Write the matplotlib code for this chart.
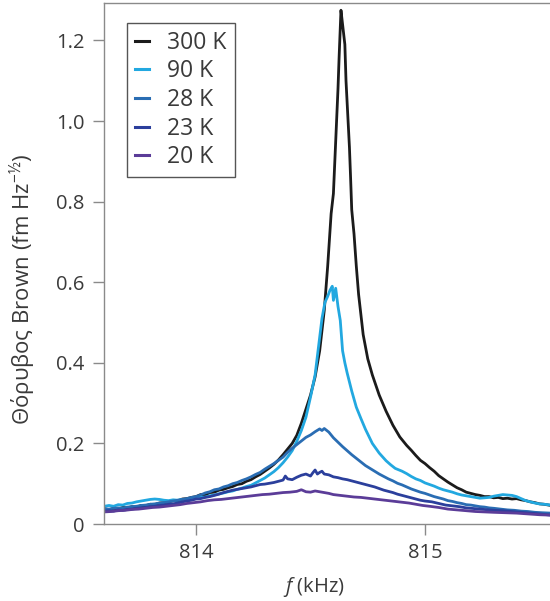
import matplotlib
matplotlib.use("Agg")
import matplotlib.pyplot as plt

# Brown noise spectra: (f in kHz, noise in fm Hz^-1/2)
trace_300K = [
    (813.60, 0.038), (813.62, 0.035), (813.64, 0.039), (813.66, 0.037), (813.68, 0.041),
    (813.70, 0.040), (813.72, 0.043), (813.74, 0.042), (813.76, 0.046), (813.78, 0.045),
    (813.80, 0.049), (813.82, 0.048), (813.84, 0.052), (813.86, 0.053), (813.88, 0.055),
    (813.90, 0.058), (813.92, 0.057), (813.94, 0.062), (813.96, 0.063), (813.98, 0.066),
    (814.00, 0.068), (814.02, 0.073), (814.04, 0.072), (814.06, 0.078), (814.08, 0.079),
    (814.10, 0.084), (814.12, 0.086), (814.14, 0.090), (814.16, 0.093), (814.18, 0.098),
    (814.20, 0.100), (814.22, 0.106), (814.24, 0.110), (814.26, 0.117), (814.28, 0.123),
    (814.30, 0.131), (814.32, 0.139), (814.34, 0.148), (814.36, 0.159), (814.38, 0.172),
    (814.40, 0.186), (814.42, 0.200), (814.44, 0.220), (814.46, 0.250), (814.48, 0.285),
    (814.50, 0.320), (814.52, 0.365), (814.54, 0.430), (814.56, 0.530), (814.575, 0.640),
    (814.59, 0.770), (814.60, 0.820), (814.61, 0.950), (814.62, 1.080), (814.625, 1.160),
    (814.633, 1.275), (814.64, 1.240), (814.65, 1.190), (814.655, 1.100), (814.665, 0.990),
    (814.67, 0.935), (814.675, 0.860), (814.68, 0.780), (814.69, 0.720), (814.70, 0.640),
    (814.71, 0.570), (814.72, 0.520), (814.73, 0.470), (814.75, 0.410), (814.77, 0.370),
    (814.80, 0.320), (814.83, 0.280), (814.86, 0.245), (814.89, 0.216), (814.92, 0.195),
    (814.94, 0.183), (814.96, 0.170), (814.98, 0.158), (815.00, 0.150), (815.02, 0.140),
    (815.04, 0.131), (815.06, 0.120), (815.08, 0.112), (815.10, 0.104), (815.12, 0.097),
    (815.14, 0.090), (815.16, 0.085), (815.18, 0.079), (815.20, 0.076), (815.22, 0.073),
    (815.24, 0.071), (815.26, 0.068), (815.28, 0.068), (815.30, 0.065), (815.32, 0.066),
    (815.34, 0.063), (815.36, 0.064), (815.38, 0.062), (815.40, 0.063), (815.42, 0.060),
    (815.44, 0.058), (815.46, 0.055), (815.48, 0.053), (815.50, 0.050), (815.52, 0.049),
    (815.55, 0.046),
]

trace_90K = [
    (813.60, 0.044), (813.62, 0.046), (813.64, 0.044), (813.66, 0.048), (813.68, 0.047),
    (813.70, 0.051), (813.72, 0.052), (813.74, 0.055), (813.76, 0.057), (813.78, 0.059),
    (813.80, 0.061), (813.82, 0.062), (813.84, 0.061), (813.86, 0.059), (813.88, 0.058),
    (813.90, 0.060), (813.92, 0.059), (813.94, 0.061), (813.96, 0.061), (813.98, 0.063),
    (814.00, 0.063), (814.02, 0.066), (814.04, 0.067), (814.06, 0.070), (814.08, 0.072),
    (814.10, 0.075), (814.12, 0.077), (814.14, 0.080), (814.16, 0.082), (814.18, 0.086),
    (814.20, 0.089), (814.22, 0.093), (814.24, 0.096), (814.26, 0.102), (814.28, 0.108),
    (814.30, 0.114), (814.32, 0.122), (814.34, 0.130), (814.36, 0.140), (814.38, 0.152),
    (814.40, 0.166), (814.42, 0.182), (814.44, 0.205), (814.46, 0.232), (814.48, 0.265),
    (814.50, 0.315), (814.52, 0.370), (814.535, 0.440), (814.55, 0.510), (814.563, 0.550),
    (814.575, 0.565), (814.585, 0.580), (814.595, 0.590), (814.60, 0.555), (814.61, 0.585),
    (814.62, 0.540), (814.63, 0.505), (814.64, 0.430), (814.65, 0.400), (814.66, 0.375),
    (814.68, 0.330), (814.70, 0.290), (814.72, 0.262), (814.74, 0.235), (814.77, 0.200),
    (814.80, 0.176), (814.83, 0.157), (814.85, 0.147), (814.87, 0.138), (814.90, 0.131),
    (814.92, 0.125), (814.94, 0.118), (814.96, 0.112), (814.98, 0.108), (815.00, 0.102),
    (815.02, 0.098), (815.04, 0.094), (815.06, 0.089), (815.08, 0.085), (815.10, 0.082),
    (815.12, 0.079), (815.14, 0.075), (815.16, 0.072), (815.18, 0.070), (815.20, 0.068),
    (815.22, 0.066), (815.24, 0.064), (815.26, 0.065), (815.28, 0.066), (815.30, 0.069),
    (815.32, 0.071), (815.34, 0.073), (815.36, 0.072), (815.38, 0.071), (815.40, 0.068),
    (815.42, 0.063), (815.44, 0.058), (815.46, 0.055), (815.48, 0.052), (815.50, 0.050),
    (815.52, 0.049), (815.55, 0.047),
]

trace_28K = [
    (813.60, 0.038), (813.62, 0.037), (813.64, 0.039), (813.66, 0.040), (813.68, 0.039),
    (813.70, 0.042), (813.72, 0.043), (813.74, 0.044), (813.76, 0.046), (813.78, 0.047),
    (813.80, 0.049), (813.82, 0.050), (813.84, 0.052), (813.86, 0.053), (813.88, 0.055),
    (813.90, 0.057), (813.92, 0.059), (813.94, 0.061), (813.96, 0.063), (813.98, 0.066),
    (814.00, 0.068), (814.02, 0.072), (814.04, 0.077), (814.06, 0.080), (814.08, 0.085),
    (814.10, 0.087), (814.12, 0.092), (814.14, 0.095), (814.16, 0.100), (814.18, 0.103),
    (814.20, 0.108), (814.22, 0.112), (814.24, 0.117), (814.26, 0.123), (814.28, 0.128),
    (814.30, 0.136), (814.32, 0.143), (814.34, 0.150), (814.36, 0.158), (814.38, 0.166),
    (814.40, 0.178), (814.42, 0.188), (814.44, 0.197), (814.46, 0.206), (814.48, 0.215),
    (814.50, 0.221), (814.52, 0.229), (814.54, 0.236), (814.55, 0.232), (814.56, 0.237),
    (814.58, 0.228), (814.60, 0.214), (814.62, 0.203), (814.64, 0.192), (814.66, 0.182),
    (814.68, 0.172), (814.70, 0.163), (814.72, 0.154), (814.74, 0.145), (814.76, 0.138),
    (814.78, 0.131), (814.80, 0.124), (814.82, 0.118), (814.84, 0.112), (814.86, 0.107),
    (814.88, 0.101), (814.90, 0.097), (814.92, 0.092), (814.94, 0.087), (814.96, 0.083),
    (814.98, 0.079), (815.00, 0.076), (815.02, 0.072), (815.04, 0.068), (815.06, 0.065),
    (815.08, 0.062), (815.10, 0.058), (815.12, 0.056), (815.14, 0.053), (815.16, 0.051),
    (815.18, 0.048), (815.20, 0.047), (815.22, 0.045), (815.24, 0.043), (815.26, 0.042),
    (815.28, 0.040), (815.30, 0.039), (815.33, 0.037), (815.36, 0.035), (815.39, 0.034),
    (815.42, 0.032), (815.45, 0.031), (815.48, 0.029), (815.51, 0.028), (815.55, 0.027),
]

trace_23K = [
    (813.60, 0.032), (813.62, 0.033), (813.64, 0.032), (813.66, 0.035), (813.68, 0.034),
    (813.70, 0.036), (813.72, 0.037), (813.74, 0.039), (813.76, 0.040), (813.78, 0.041),
    (813.80, 0.043), (813.82, 0.044), (813.84, 0.046), (813.86, 0.047), (813.88, 0.049),
    (813.90, 0.050), (813.92, 0.052), (813.94, 0.055), (813.96, 0.057), (813.98, 0.059),
    (814.00, 0.062), (814.02, 0.063), (814.04, 0.066), (814.06, 0.068), (814.08, 0.071),
    (814.10, 0.074), (814.12, 0.078), (814.14, 0.081), (814.16, 0.084), (814.18, 0.086),
    (814.20, 0.088), (814.22, 0.090), (814.24, 0.092), (814.26, 0.095), (814.28, 0.098),
    (814.30, 0.099), (814.32, 0.101), (814.34, 0.103), (814.36, 0.106), (814.38, 0.109),
    (814.39, 0.119), (814.40, 0.112), (814.42, 0.110), (814.44, 0.116), (814.46, 0.121),
    (814.48, 0.124), (814.50, 0.119), (814.51, 0.127), (814.52, 0.134), (814.53, 0.124),
    (814.54, 0.128), (814.55, 0.131), (814.56, 0.124), (814.58, 0.122), (814.60, 0.117),
    (814.62, 0.115), (814.64, 0.112), (814.66, 0.110), (814.68, 0.107), (814.70, 0.104),
    (814.72, 0.101), (814.74, 0.098), (814.76, 0.095), (814.78, 0.092), (814.80, 0.088),
    (814.82, 0.084), (814.84, 0.081), (814.86, 0.078), (814.88, 0.074), (814.90, 0.071),
    (814.92, 0.068), (814.94, 0.065), (814.96, 0.062), (814.98, 0.059), (815.00, 0.057),
    (815.03, 0.055), (815.06, 0.051), (815.09, 0.047), (815.12, 0.045), (815.15, 0.043),
    (815.18, 0.040), (815.22, 0.038), (815.26, 0.036), (815.30, 0.034), (815.34, 0.033),
    (815.38, 0.031), (815.42, 0.029), (815.46, 0.027), (815.50, 0.025), (815.55, 0.022),
]

trace_20K = [
    (813.60, 0.030), (813.63, 0.031), (813.66, 0.033), (813.69, 0.034), (813.72, 0.036),
    (813.75, 0.037), (813.78, 0.039), (813.81, 0.041), (813.84, 0.042), (813.87, 0.044),
    (813.90, 0.046), (813.93, 0.048), (813.96, 0.051), (813.99, 0.053), (814.02, 0.055),
    (814.05, 0.058), (814.08, 0.060), (814.11, 0.061), (814.14, 0.063), (814.17, 0.065),
    (814.20, 0.067), (814.23, 0.069), (814.26, 0.071), (814.29, 0.073), (814.32, 0.074),
    (814.35, 0.076), (814.38, 0.078), (814.41, 0.079), (814.44, 0.081), (814.46, 0.085),
    (814.48, 0.080), (814.50, 0.079), (814.52, 0.082), (814.54, 0.080), (814.56, 0.078),
    (814.58, 0.076), (814.60, 0.073), (814.63, 0.071), (814.66, 0.069), (814.69, 0.067),
    (814.72, 0.066), (814.75, 0.064), (814.78, 0.062), (814.81, 0.060), (814.84, 0.058),
    (814.87, 0.056), (814.90, 0.054), (814.93, 0.052), (814.96, 0.049), (814.99, 0.046),
    (815.02, 0.044), (815.06, 0.041), (815.10, 0.037), (815.14, 0.035), (815.18, 0.033),
    (815.22, 0.031), (815.26, 0.030), (815.30, 0.029), (815.35, 0.028), (815.40, 0.027),
    (815.45, 0.025), (815.50, 0.023), (815.55, 0.022),
]

labels = ["300 K", "90 K", "28 K", "23 K", "20 K"]
traces = [trace_300K, trace_90K, trace_28K, trace_23K, trace_20K]
colors = ["#1b1b1b", "#22a8e0", "#2a6db3", "#2b3f9c", "#5b3c98"]

x_ticks = [814, 815]
y_ticks = [0, 0.2, 0.4, 0.6, 0.8, 1.0, 1.2]

plt.rcParams["font.family"] = ["Open Sans", "DejaVu Sans"]
plt.rcParams["mathtext.fontset"] = "custom"
plt.rcParams["mathtext.rm"] = "Open Sans"
plt.rcParams["mathtext.it"] = "Open Sans:italic"

text_color = "#3a3a3a"
frame_color = "#8a8a8a"

fig = plt.figure(figsize=(5.5, 6.01), dpi=100)
ax = fig.add_axes([104 / 550, 1 - 524 / 601, 446 / 550, 521 / 601])

for trace, label, color in zip(traces, labels, colors):
    f, v = zip(*trace)
    ax.plot(f, v, color=color, lw=2.0, label=label)

ax.set_xlim(813.598, 815.546)
ax.set_ylim(0, 1.293)
ax.set_xticks(x_ticks)
ax.set_xticklabels([str(t) for t in x_ticks])
ax.set_yticks(y_ticks)
ax.set_yticklabels(["0", "0.2", "0.4", "0.6", "0.8", "1.0", "1.2"])

ax.tick_params(direction="out", length=8, width=1, color=frame_color,
               labelcolor=text_color, labelsize=14.5, pad=6)
for side in ["left", "bottom", "top"]:
    ax.spines[side].set_color(frame_color)
    ax.spines[side].set_linewidth(1)
ax.spines["right"].set_visible(False)

ax.set_xlabel(r"$f$ (kHz)", fontsize=14.5, color=text_color)
ax.xaxis.set_label_coords(0.471, -0.097)
ax.set_ylabel("Θόρυβος Brown (fm Hz$^{−½}$)", fontsize=16, color=text_color)
ax.yaxis.set_label_coords(-0.148, 0.45)

leg = ax.legend(loc="upper left", bbox_to_anchor=(0.052, 0.962), borderaxespad=0,
                fontsize=16.5, handlelength=0.6, handletextpad=0.8, labelspacing=0.2,
                borderpad=0.35, fancybox=False, framealpha=1)
leg.get_frame().set_edgecolor("#555555")
leg.get_frame().set_linewidth(1)
for t in leg.get_texts():
    t.set_color(text_color)
for h in leg.get_lines():
    h.set_linewidth(2.2)

fig.savefig("out.png", dpi=100)
